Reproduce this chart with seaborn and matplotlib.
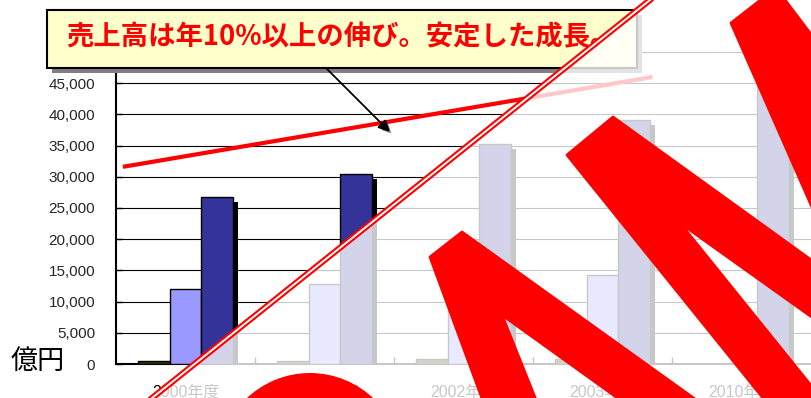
import matplotlib
matplotlib.use("Agg")
import numpy as np
import pandas as pd
import matplotlib.pyplot as plt
import seaborn as sns
import matplotlib.patheffects as pe
from matplotlib.patches import Rectangle, Polygon, Ellipse, FancyArrowPatch
from matplotlib.lines import Line2D
from matplotlib.ticker import StrMethodFormatter

# ---------------- data ----------------
years = ["2000年度", "2001年度", "2002年度", "2003年度", "2010年度"]
series_names = ["系列1", "系列2", "系列3"]
series1 = [550, 450, 750, 800, np.nan]
series2 = [12000, 12800, 13500, 14200, np.nan]
series3 = [26800, 30400, 35300, 39100, 47000]
y_ticks = [0, 5000, 10000, 15000, 20000, 25000, 30000, 35000, 40000, 45000]
y_max = 50000
unit_label = "億円"
callout_text = "売上高は年10%以上の伸び。安定した成長。"
trend_x = [-0.45, 3.36]
trend_y = [31600, 46000]

bar_colors = ["#333300", "#9999FF", "#333399"]

# ---------------- style ----------------
sns.set_theme(style="white")
plt.rcParams["font.family"] = ["Liberation Sans", "Noto Sans CJK JP"]

W, H = 812, 398
fig = plt.figure(figsize=(W / 100, H / 100), dpi=100)
ax = fig.add_axes([116 / W, 1 - 364 / H, 695 / W, 312 / H])


def P(x, y):
    return (x / W, 1 - y / H)


df = pd.DataFrame({
    "year": np.repeat(years, 3),
    "series": series_names * len(years),
    "value": np.ravel(np.column_stack([series1, series2, series3])),
})

sns.barplot(data=df, x="year", y="value", hue="series", hue_order=series_names,
            order=years, palette=bar_colors, width=0.69, saturation=1,
            edgecolor="black", linewidth=1.0, legend=False, ax=ax, zorder=3)

for p in ax.patches:
    p.set_path_effects([pe.SimplePatchShadow(offset=(3.6, -3.6), shadow_rgbFace="black", alpha=1.0),
                        pe.Normal()])

ax.set_xlim(-0.5, len(years) - 0.5)
ax.set_ylim(0, y_max)
ax.set_yticks(y_ticks)
ax.yaxis.set_major_formatter(StrMethodFormatter("{x:,.0f}"))
ax.set_xlabel("")
ax.set_ylabel("")
ax.set_axisbelow(True)
ax.grid(axis="y", color="black", linewidth=0.8)
ax.grid(axis="x", visible=False)
ax.axhline(y_max, color="black", linewidth=0.8, zorder=0.5)
for s in ["top", "right"]:
    ax.spines[s].set_visible(False)
for s in ["left", "bottom"]:
    ax.spines[s].set_color("black")
    ax.spines[s].set_linewidth(1.5)

ax.tick_params(axis="y", direction="in", length=4.5, width=1, color="black",
               labelsize=11, pad=15, left=True)
ax.tick_params(axis="x", which="major", length=0, labelsize=11.5, pad=14.5, labelcolor="black")
ax.set_xticks(np.arange(len(years) - 1) + 0.5, minor=True)
ax.tick_params(axis="x", which="minor", direction="in", length=5, width=1, color="black", bottom=True)

# trend line
ax.plot(trend_x, trend_y, color="#FF0000", lw=3.0, solid_capstyle="butt", zorder=6, clip_on=False)

# unit label
fig.text(*P(38, 361), unit_label, ha="center", va="center", fontsize=19.5,
         family=["Noto Sans CJK JP"], color="black")

# callout box with shadow
fig.add_artist(Rectangle(P(52, 73), 590 / W, 58 / H, transform=fig.transFigure,
                         facecolor="#808080", edgecolor="none", zorder=5))
fig.add_artist(Rectangle(P(47, 68), 590 / W, 58 / H, transform=fig.transFigure,
                         facecolor="#FFFFCC", edgecolor="black", lw=1.5, zorder=5.1))
fig.text(*P(342, 37), callout_text, ha="center", va="center", fontsize=19.7,
         fontweight="bold", color="#FF0000", family=["Noto Sans CJK JP"], zorder=5.2)

# arrow from callout
arr = FancyArrowPatch(P(326, 68), P(390, 132), transform=fig.transFigure,
                      arrowstyle="-|>", mutation_scale=17, color="black", lw=1.3, zorder=5.3,
                      shrinkA=0, shrinkB=0)
arr.set_path_effects([pe.SimplePatchShadow(offset=(2, -2), shadow_rgbFace="#888888", alpha=1.0), pe.Normal()])
fig.add_artist(arr)

# fade overlay on the lower-right side of the diagonal
fade = Polygon([P(124.5, 420), P(675, -20), P(900, -20), P(900, 420)], closed=True,
               transform=fig.transFigure, facecolor="white", edgecolor="none", alpha=0.79, zorder=6)
fig.add_artist(fade)

# double red diagonal
for lw, col in [(4.4, "#FF0000"), (1.4, "white")]:
    fig.add_artist(Line2D([124.5 / W, 675 / W], [1 - 420 / H, 1 + 20 / H], transform=fig.transFigure,
                          color=col, lw=lw, zorder=7))

# big red strokes
shapes = [
    [(430, 257), (462, 232), (766, 450), (690, 450), (502, 315), (556, 450), (501, 450)],
    [(567, 155), (613, 117), (900, 324), (900, 380), (680, 223), (863, 450), (805, 450)],
    [(731, 23), (776, -12), (900, 152), (900, 407)],
]
for sh in shapes:
    fig.add_artist(Polygon([P(x, y) for x, y in sh], closed=True, transform=fig.transFigure,
                           facecolor="#FF0000", edgecolor="#FF0000", lw=2, joinstyle="round", zorder=8))
fig.add_artist(Ellipse(P(310, 465), 184 / W, 184 / H, transform=fig.transFigure,
                       facecolor="#FF0000", edgecolor="none", zorder=8))

fig.savefig("out.png", dpi=100)
